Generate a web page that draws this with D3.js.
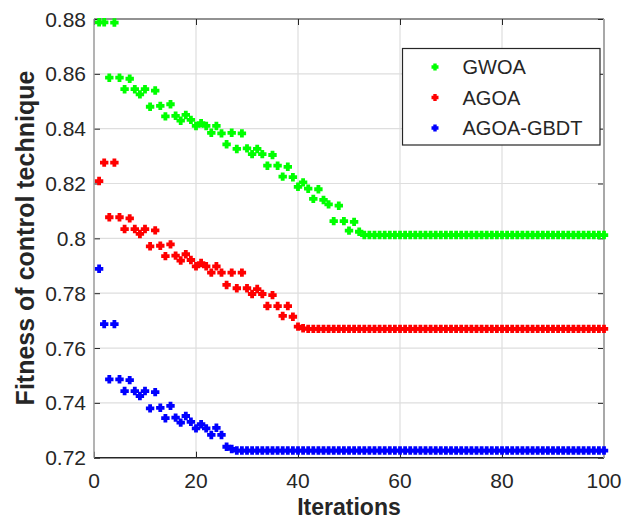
<!DOCTYPE html>
<html>
<head>
<meta charset="utf-8">
<script src="https://cdnjs.cloudflare.com/ajax/libs/d3/7.8.5/d3.min.js"></script>
<style>
  body { margin: 0; background: #fff; }
  text { font-family: "Liberation Sans", Arial, sans-serif; fill: #262626; }
</style>
</head>
<body>
<div id="chart-area"></div>
<script>
// fitness per iteration
const iterations = d3.range(1, 101)

const gwoa = [
  0.8788, 0.8788, 0.8586, 0.8787, 0.8586, 0.8544, 0.8582, 0.8544, 0.8525, 0.8544,
  0.8480, 0.8539, 0.8483, 0.8445, 0.8489, 0.8447, 0.8429, 0.8450, 0.8432, 0.8410,
  0.8420, 0.8410, 0.8385, 0.8410, 0.8383, 0.8343, 0.8385, 0.8326, 0.8383, 0.8328,
  0.8307, 0.8326, 0.8307, 0.8265, 0.8304, 0.8265, 0.8225, 0.8261, 0.8223, 0.8188,
  0.8204, 0.8181, 0.8144, 0.8179, 0.8140, 0.8124, 0.8063, 0.8119, 0.8063, 0.8028,
  0.8060, 0.8024, 0.8012, 0.8012, 0.8012, 0.8012, 0.8012, 0.8012, 0.8012, 0.8012,
  0.8012, 0.8012, 0.8012, 0.8012, 0.8012, 0.8012, 0.8012, 0.8012, 0.8012, 0.8012,
  0.8012, 0.8012, 0.8012, 0.8012, 0.8012, 0.8012, 0.8012, 0.8012, 0.8012, 0.8012,
  0.8012, 0.8012, 0.8012, 0.8012, 0.8012, 0.8012, 0.8012, 0.8012, 0.8012, 0.8012,
  0.8012, 0.8012, 0.8012, 0.8012, 0.8012, 0.8012, 0.8012, 0.8012, 0.8012, 0.8012
]

const agoa = [
  0.8209, 0.8276, 0.8077, 0.8276, 0.8077, 0.8034, 0.8073, 0.8034, 0.8016, 0.8034,
  0.7971, 0.8029, 0.7973, 0.7935, 0.7978, 0.7937, 0.7919, 0.7942, 0.7921, 0.7898,
  0.7910, 0.7898, 0.7875, 0.7898, 0.7875, 0.7830, 0.7875, 0.7818, 0.7875, 0.7818,
  0.7797, 0.7815, 0.7797, 0.7753, 0.7793, 0.7753, 0.7717, 0.7753, 0.7714, 0.7678,
  0.7672, 0.7670, 0.7670, 0.7670, 0.7670, 0.7670, 0.7670, 0.7670, 0.7670, 0.7670,
  0.7670, 0.7670, 0.7670, 0.7670, 0.7670, 0.7670, 0.7670, 0.7670, 0.7670, 0.7670,
  0.7670, 0.7670, 0.7670, 0.7670, 0.7670, 0.7670, 0.7670, 0.7670, 0.7670, 0.7670,
  0.7670, 0.7670, 0.7670, 0.7670, 0.7670, 0.7670, 0.7670, 0.7670, 0.7670, 0.7670,
  0.7670, 0.7670, 0.7670, 0.7670, 0.7670, 0.7670, 0.7670, 0.7670, 0.7670, 0.7670,
  0.7670, 0.7670, 0.7670, 0.7670, 0.7670, 0.7670, 0.7670, 0.7670, 0.7670, 0.7670
]

const agoaGbdt = [
  0.7889, 0.7687, 0.7486, 0.7687, 0.7486, 0.7443, 0.7483, 0.7443, 0.7425, 0.7443,
  0.7380, 0.7439, 0.7382, 0.7344, 0.7389, 0.7346, 0.7328, 0.7352, 0.7331, 0.7307,
  0.7322, 0.7307, 0.7283, 0.7309, 0.7283, 0.7240, 0.7232, 0.7226, 0.7226, 0.7226,
  0.7226, 0.7226, 0.7226, 0.7226, 0.7226, 0.7226, 0.7226, 0.7226, 0.7226, 0.7226,
  0.7226, 0.7226, 0.7226, 0.7226, 0.7226, 0.7226, 0.7226, 0.7226, 0.7226, 0.7226,
  0.7226, 0.7226, 0.7226, 0.7226, 0.7226, 0.7226, 0.7226, 0.7226, 0.7226, 0.7226,
  0.7226, 0.7226, 0.7226, 0.7226, 0.7226, 0.7226, 0.7226, 0.7226, 0.7226, 0.7226,
  0.7226, 0.7226, 0.7226, 0.7226, 0.7226, 0.7226, 0.7226, 0.7226, 0.7226, 0.7226,
  0.7226, 0.7226, 0.7226, 0.7226, 0.7226, 0.7226, 0.7226, 0.7226, 0.7226, 0.7226,
  0.7226, 0.7226, 0.7226, 0.7226, 0.7226, 0.7226, 0.7226, 0.7226, 0.7226, 0.7226
]

const seriesNames = ["GWOA", "AGOA", "AGOA-GBDT"]
const seriesColors = ["#00ff00", "#ff0000", "#0000ff"]
const xTicks = [0, 20, 40, 60, 80, 100]
const yTicks = [0.72, 0.74, 0.76, 0.78, 0.8, 0.82, 0.84, 0.86, 0.88]

const W = 636, H = 519
const PLOT = { LEFT: 94, RIGHT: 604, TOP: 19, BOTTOM: 457.7 }

const svg = d3.select('#chart-area')
    .append('svg')
    .attr('width', W)
    .attr('height', H)

const x = d3.scaleLinear()
    .domain([0, 100])
    .range([PLOT.LEFT, PLOT.RIGHT])

const y = d3.scaleLinear()
    .domain([0.72, 0.88])
    .range([PLOT.BOTTOM, PLOT.TOP])

// grid
svg.append('g')
    .selectAll('line.vx')
    .data(xTicks.slice(1, -1))
    .enter().append('line')
    .attr('x1', d => x(d)).attr('x2', d => x(d))
    .attr('y1', PLOT.TOP).attr('y2', PLOT.BOTTOM)
    .attr('stroke', '#dedede').attr('stroke-width', 1.2)
svg.append('g')
    .selectAll('line.hy')
    .data(yTicks.slice(1, -1))
    .enter().append('line')
    .attr('x1', PLOT.LEFT).attr('x2', PLOT.RIGHT)
    .attr('y1', d => y(d)).attr('y2', d => y(d))
    .attr('stroke', '#dedede').attr('stroke-width', 1.2)

// axes, ticks pointing inward like matlab
const fmt = d => d3.format('')(+d.toFixed(2))
svg.append('g')
    .attr('transform', `translate(0, ${PLOT.BOTTOM})`)
    .call(d3.axisTop(x).tickValues(xTicks).tickSize(6).tickFormat(''))
    .call(g => g.select('.domain').remove())
    .call(g => g.selectAll('.tick line').attr('stroke', '#262626'))
svg.append('g')
    .attr('transform', `translate(0, ${PLOT.TOP})`)
    .call(d3.axisBottom(x).tickValues(xTicks).tickSize(6).tickFormat(''))
    .call(g => g.select('.domain').remove())
    .call(g => g.selectAll('.tick line').attr('stroke', '#262626'))
svg.append('g')
    .attr('transform', `translate(${PLOT.LEFT}, 0)`)
    .call(d3.axisRight(y).tickValues(yTicks).tickSize(6).tickFormat(''))
    .call(g => g.select('.domain').remove())
    .call(g => g.selectAll('.tick line').attr('stroke', '#262626'))
svg.append('g')
    .attr('transform', `translate(${PLOT.RIGHT}, 0)`)
    .call(d3.axisLeft(y).tickValues(yTicks).tickSize(6).tickFormat(''))
    .call(g => g.select('.domain').remove())
    .call(g => g.selectAll('.tick line').attr('stroke', '#262626'))

// tick labels
svg.append('g')
    .selectAll('text')
    .data(xTicks)
    .enter().append('text')
    .attr('x', d => x(d))
    .attr('y', 488)
    .attr('text-anchor', 'middle')
    .attr('font-size', 21)
    .text(d => d)
svg.append('g')
    .selectAll('text')
    .data(yTicks)
    .enter().append('text')
    .attr('x', 86)
    .attr('y', d => y(d) + 7.5)
    .attr('text-anchor', 'end')
    .attr('font-size', 21)
    .text(fmt)

// box
svg.append('line').attr('x1', PLOT.LEFT).attr('x2', PLOT.RIGHT).attr('y1', PLOT.BOTTOM).attr('y2', PLOT.BOTTOM)
    .attr('stroke', '#262626').attr('stroke-width', 1.5)
svg.append('line').attr('x1', PLOT.LEFT).attr('x2', PLOT.RIGHT).attr('y1', PLOT.TOP).attr('y2', PLOT.TOP)
    .attr('stroke', '#262626').attr('stroke-width', 1.2)
svg.append('line').attr('x1', PLOT.LEFT).attr('x2', PLOT.LEFT).attr('y1', PLOT.TOP).attr('y2', PLOT.BOTTOM)
    .attr('stroke', '#9a9a9a').attr('stroke-width', 1.5)
svg.append('line').attr('x1', PLOT.RIGHT).attr('x2', PLOT.RIGHT).attr('y1', PLOT.TOP).attr('y2', PLOT.BOTTOM)
    .attr('stroke', '#a8a8a8').attr('stroke-width', 2)

// axis titles
svg.append('text')
    .attr('x', 349)
    .attr('y', 515)
    .attr('text-anchor', 'middle')
    .attr('font-size', 23)
    .attr('font-weight', 'bold')
    .text('Iterations')
svg.append('text')
    .attr('transform', 'translate(34, 238) rotate(-90)')
    .attr('text-anchor', 'middle')
    .attr('font-size', 25)
    .attr('font-weight', 'bold')
    .text('Fitness of control technique')

// markers
const plus = 'M-4.2,0H4.2M0,-4.2V4.2'
const allSeries = [gwoa, agoa, agoaGbdt]
allSeries.forEach((vals, i) => {
  svg.append('g')
      .selectAll('path')
      .data(vals)
      .enter()
      .append('path')
      .attr('d', plus)
      .attr('transform', (d, j) => `translate(${x(iterations[j])}, ${y(d)})`)
      .attr('stroke', seriesColors[i])
      .attr('stroke-width', 3.8)
      .attr('fill', 'none')
})

// legend
const legend = svg.append('g')
legend.append('rect')
    .attr('x', 402.5).attr('y', 48.5)
    .attr('width', 197.5).attr('height', 96.5)
    .attr('fill', '#fff')
    .attr('stroke', '#262626')
    .attr('stroke-width', 1.2)
seriesNames.forEach((name, i) => {
  const ly = 67 + i * 30.5
  legend.append('path')
      .attr('d', 'M-3.5,0H3.5M0,-3.5V3.5')
      .attr('transform', `translate(435, ${ly})`)
      .attr('stroke', seriesColors[i])
      .attr('stroke-width', 3.4)
  legend.append('text')
      .attr('x', 462.5)
      .attr('y', ly + 7)
      .attr('font-size', 20)
      .text(name)
})
</script>
</body>
</html>
